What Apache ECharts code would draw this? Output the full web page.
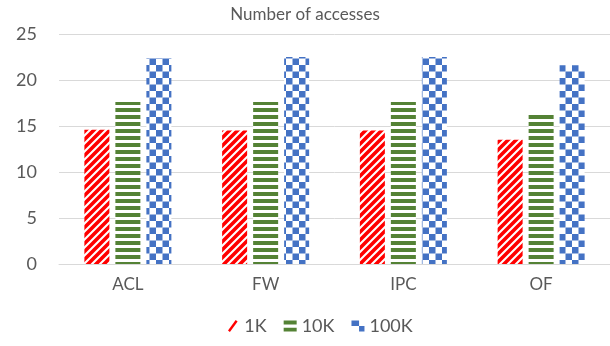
<!DOCTYPE html>
<html>
<head>
<meta charset="utf-8">
<script src="https://cdn.jsdelivr.net/npm/echarts@6/dist/echarts.min.js"></script>
<style>
  html, body { margin: 0; padding: 0; background: #fff; }
  #chart { width: 610px; height: 346px; }
</style>
</head>
<body>
<div id="chart"></div>
<script>
// Chart data
const categories = ['ACL', 'FW', 'IPC', 'OF'];
const seriesNames = ['1K', '10K', '100K'];
const values1K = [14.6, 14.5, 14.5, 13.5];
const values10K = [17.6, 17.6, 17.6, 16.4];
const values100K = [22.4, 22.5, 22.5, 21.6];
const yTicks = [0, 5, 10, 15, 20, 25];

const RED = '#ff0000';
const GREEN = '#548235';
const BLUE = '#4472c4';
const TEXT = '#595959';
const FONT = 'Lato, "Liberation Sans", sans-serif';

// Pattern tiles for the bar fills
function makeTile(w, h, draw) {
  const c = document.createElement('canvas');
  c.width = w; c.height = h;
  const ctx = c.getContext('2d');
  ctx.fillStyle = '#ffffff';
  ctx.fillRect(0, 0, w, h);
  draw(ctx);
  return c;
}

// diagonal "/" stripes
const stripeTile = makeTile(8, 8, ctx => {
  ctx.strokeStyle = RED;
  ctx.lineWidth = 3.6;
  ctx.beginPath();
  ctx.moveTo(-2, 10); ctx.lineTo(10, -2);
  ctx.moveTo(-6, 6); ctx.lineTo(6, -6);
  ctx.moveTo(2, 14); ctx.lineTo(14, 2);
  ctx.stroke();
});

// horizontal bands
const bandTile = makeTile(4, 7, ctx => {
  ctx.fillStyle = GREEN;
  ctx.fillRect(0, 3, 4, 4);
});

// checkerboard
const checkTile = makeTile(13, 13, ctx => {
  ctx.fillStyle = BLUE;
  ctx.fillRect(0, 0, 6.5, 6.5);
  ctx.fillRect(6.5, 6.5, 6.5, 6.5);
});

const fills = [
  { image: stripeTile, repeat: 'repeat' },
  { image: bandTile, repeat: 'repeat' },
  { image: checkTile, repeat: 'repeat' }
];
const seriesValues = [values1K, values10K, values100K];

// Legend glyphs
const legendIcons = [
  'path://M0,11 L8,0 L10,1.5 L2,12.5 Z',
  'path://M0,0 H12 V3.5 H0 Z M0,6.5 H12 V10 H0 Z',
  'path://M0,0 H7 V5 H0 Z M7,5 H12 V10 H7 Z'
];
const legendColors = [RED, GREEN, BLUE];

const chart = echarts.init(document.getElementById('chart'), null, { renderer: 'canvas' });

chart.setOption({
  animation: false,
  backgroundColor: '#ffffff',
  title: {
    text: 'Number of accesses',
    left: 'center',
    top: 1,
    textStyle: { fontFamily: FONT, fontSize: 17, fontWeight: 'normal', color: TEXT }
  },
  legend: {
    bottom: 6,
    left: 223,
    itemWidth: 13,
    itemHeight: 12,
    itemGap: 17,
    textStyle: { fontFamily: FONT, fontSize: 18, color: TEXT },
    data: seriesNames.map((n, i) => ({
      name: n,
      icon: legendIcons[i],
      itemStyle: { color: legendColors[i] }
    }))
  },
  grid: {
    left: 59,
    top: 34,
    width: 557,
    bottom: 82,
    containLabel: false
  },
  xAxis: {
    type: 'category',
    data: categories,
    axisTick: { show: false },
    axisLine: { lineStyle: { color: '#d9d9d9', width: 1 } },
    axisLabel: { fontFamily: FONT, fontSize: 17, color: TEXT, margin: 12 }
  },
  yAxis: {
    type: 'value',
    min: yTicks[0],
    max: yTicks[yTicks.length - 1],
    interval: yTicks[1] - yTicks[0],
    axisLine: { show: false },
    axisTick: { show: false },
    splitLine: { lineStyle: { color: '#d9d9d9', width: 1 } },
    axisLabel: { fontFamily: FONT, fontSize: 18, color: TEXT, margin: 22 }
  },
  series: seriesNames.map((n, i) => ({
    name: n,
    type: 'bar',
    data: seriesValues[i],
    barWidth: 25,
    barGap: '24%',
    itemStyle: { color: fills[i] }
  }))
});
</script>
</body>
</html>
